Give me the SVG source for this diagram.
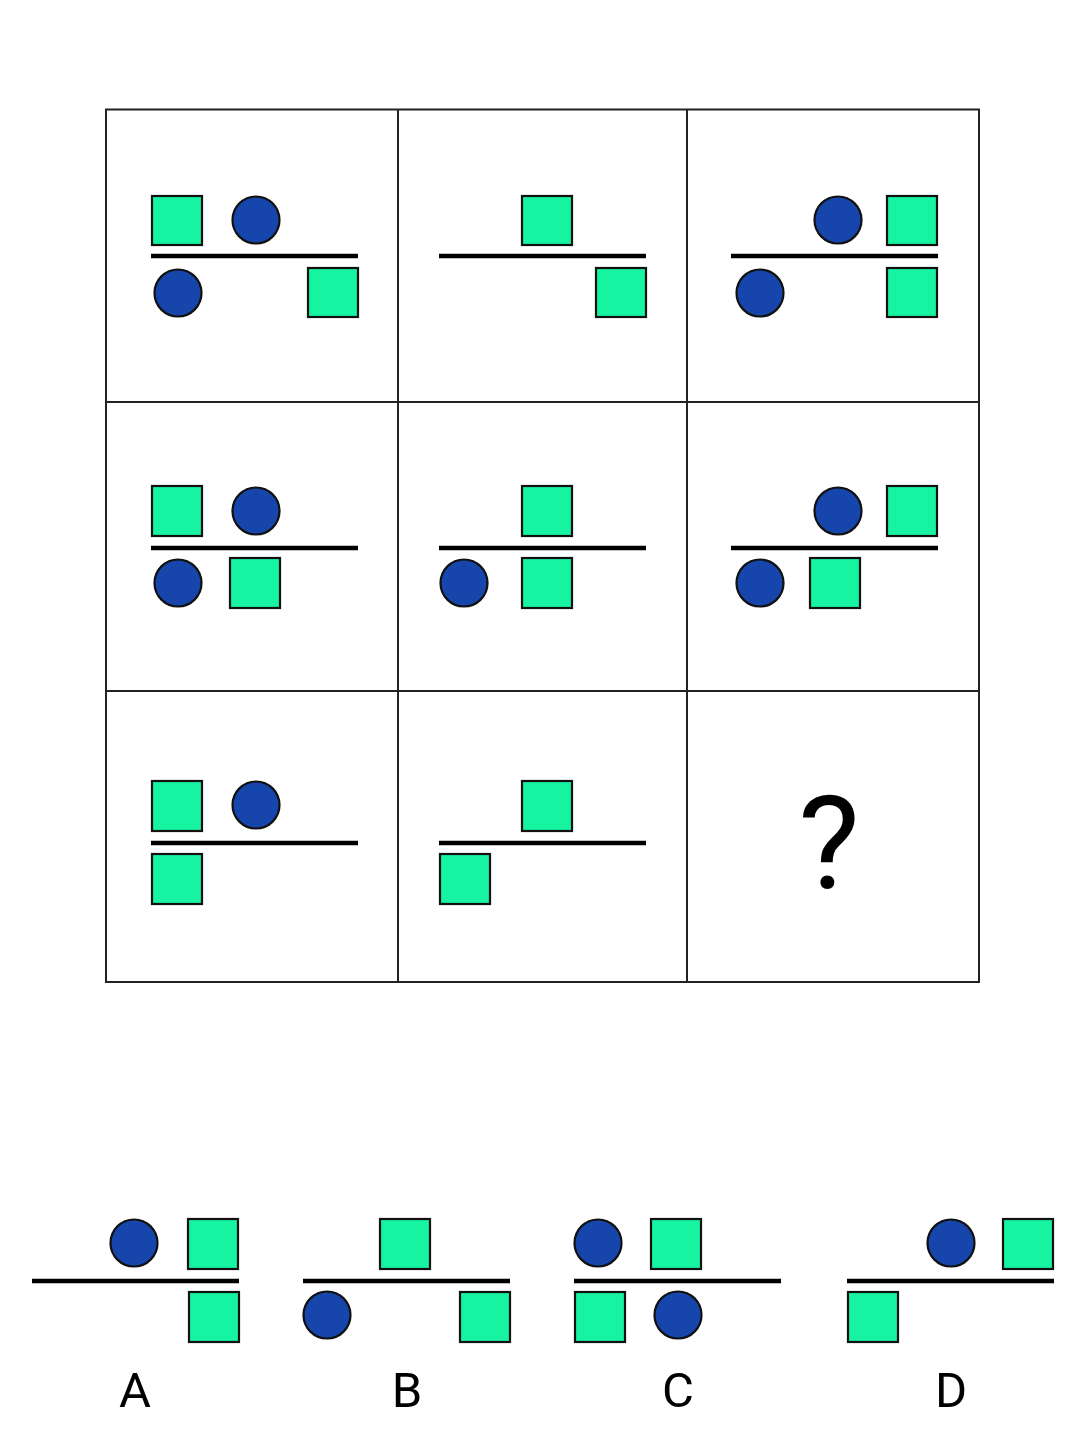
<svg xmlns="http://www.w3.org/2000/svg" width="1086" height="1436" viewBox="0 0 1086 1436">
<style>
.sq{fill:#16F4A1;stroke:#111;stroke-width:2.2}
.ci{fill:#1646AB;stroke:#111;stroke-width:2.2}
.bar{stroke:#000;stroke-width:4.5}
.grid{stroke:#222;stroke-width:2;fill:none}
.lbl{font-family:Roboto,"Liberation Sans",sans-serif;fill:#000;text-anchor:middle}
</style>
<rect width="1086" height="1436" fill="#fff"/>
<g id="grid">
<rect class="grid" x="106" y="109.5" width="873" height="872.5"/>
<line class="grid" x1="398" y1="109.5" x2="398" y2="982"/>
<line class="grid" x1="687" y1="109.5" x2="687" y2="982"/>
<line class="grid" x1="106" y1="402" x2="979" y2="402"/>
<line class="grid" x1="106" y1="691" x2="979" y2="691"/>
</g>
<g id="cell-1-1">
<line class="bar" x1="151" y1="256" x2="358" y2="256"/>
<rect class="sq" x="152" y="196" width="50" height="49"/>
<circle class="ci" cx="256" cy="220" r="23.5"/>
<circle class="ci" cx="178" cy="293" r="23.5"/>
<rect class="sq" x="308" y="268" width="50" height="49"/>
</g>
<g id="cell-1-2">
<line class="bar" x1="439" y1="256" x2="646" y2="256"/>
<rect class="sq" x="522" y="196" width="50" height="49"/>
<rect class="sq" x="596" y="268" width="50" height="49"/>
</g>
<g id="cell-1-3">
<line class="bar" x1="731" y1="256" x2="938" y2="256"/>
<circle class="ci" cx="838" cy="220" r="23.5"/>
<rect class="sq" x="887" y="196" width="50" height="49"/>
<circle class="ci" cx="760" cy="293" r="23.5"/>
<rect class="sq" x="887" y="268" width="50" height="49"/>
</g>
<g id="cell-2-1">
<line class="bar" x1="151" y1="548" x2="358" y2="548"/>
<rect class="sq" x="152" y="486" width="50" height="50"/>
<circle class="ci" cx="256" cy="511" r="23.5"/>
<circle class="ci" cx="178" cy="583" r="23.5"/>
<rect class="sq" x="230" y="558" width="50" height="50"/>
</g>
<g id="cell-2-2">
<line class="bar" x1="439" y1="548" x2="646" y2="548"/>
<rect class="sq" x="522" y="486" width="50" height="50"/>
<circle class="ci" cx="464" cy="583" r="23.5"/>
<rect class="sq" x="522" y="558" width="50" height="50"/>
</g>
<g id="cell-2-3">
<line class="bar" x1="731" y1="548" x2="938" y2="548"/>
<circle class="ci" cx="838" cy="511" r="23.5"/>
<rect class="sq" x="887" y="486" width="50" height="50"/>
<circle class="ci" cx="760" cy="583" r="23.5"/>
<rect class="sq" x="810" y="558" width="50" height="50"/>
</g>
<g id="cell-3-1">
<line class="bar" x1="151" y1="843" x2="358" y2="843"/>
<rect class="sq" x="152" y="781" width="50" height="50"/>
<circle class="ci" cx="256" cy="805" r="23.5"/>
<rect class="sq" x="152" y="854" width="50" height="50"/>
</g>
<g id="cell-3-2">
<line class="bar" x1="439" y1="843" x2="646" y2="843"/>
<rect class="sq" x="522" y="781" width="50" height="50"/>
<rect class="sq" x="440" y="854" width="50" height="50"/>
</g>
<g id="cell-3-3">
<text class="lbl" x="829" y="888" font-size="130">?</text>
</g>
<g id="option-A">
<line class="bar" x1="32" y1="1281" x2="239" y2="1281"/>
<circle class="ci" cx="134" cy="1243" r="23.5"/>
<rect class="sq" x="188" y="1219" width="50" height="50"/>
<rect class="sq" x="189" y="1292" width="50" height="50"/>
<text class="lbl" x="135" y="1407" font-size="49">A</text>
</g>
<g id="option-B">
<line class="bar" x1="303" y1="1281" x2="510" y2="1281"/>
<rect class="sq" x="380" y="1219" width="50" height="50"/>
<circle class="ci" cx="327" cy="1315" r="23.5"/>
<rect class="sq" x="460" y="1292" width="50" height="50"/>
<text class="lbl" x="407" y="1407" font-size="49">B</text>
</g>
<g id="option-C">
<line class="bar" x1="574" y1="1281" x2="781" y2="1281"/>
<circle class="ci" cx="598" cy="1243" r="23.5"/>
<rect class="sq" x="651" y="1219" width="50" height="50"/>
<rect class="sq" x="575" y="1292" width="50" height="50"/>
<circle class="ci" cx="678" cy="1315" r="23.5"/>
<text class="lbl" x="678" y="1407" font-size="49">C</text>
</g>
<g id="option-D">
<line class="bar" x1="847" y1="1281" x2="1054" y2="1281"/>
<circle class="ci" cx="951" cy="1243" r="23.5"/>
<rect class="sq" x="1003" y="1219" width="50" height="50"/>
<rect class="sq" x="848" y="1292" width="50" height="50"/>
<text class="lbl" x="951" y="1407" font-size="49">D</text>
</g>
</svg>
